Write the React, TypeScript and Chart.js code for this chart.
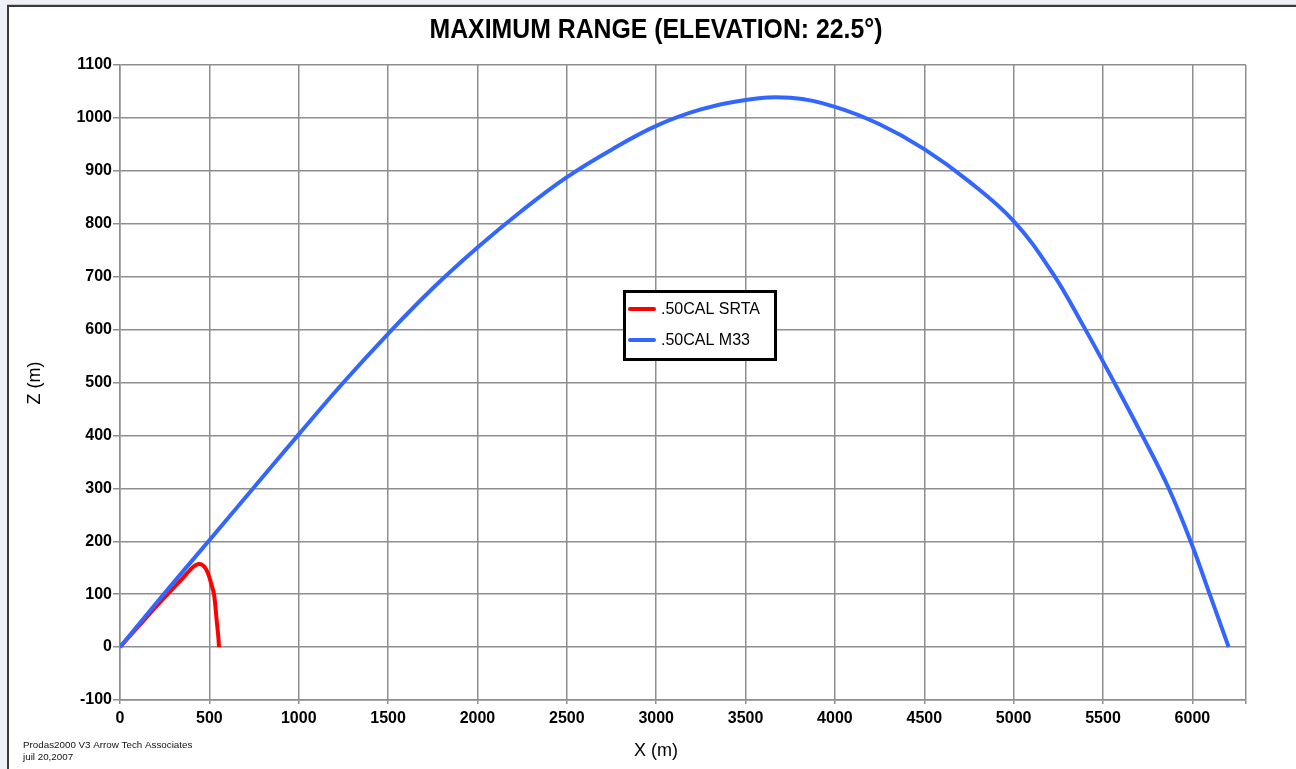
import React, { useEffect, useRef } from "react";
import { Chart, registerables } from "chart.js";

Chart.register(...registerables);

const chartTitle = "MAXIMUM RANGE (ELEVATION: 22.5°)";
const xAxisTitle = "X (m)";
const yAxisTitle = "Z (m)";
const footerLines = ["Prodas2000 V3 Arrow Tech Associates", "juil 20,2007"];

const srtaLabel = ".50CAL SRTA";
const srtaX = [0, 100, 200, 300, 350, 390, 415, 440, 462, 480, 497, 510, 526, 541, 550, 554];
const srtaZ = [0, 38, 76, 112, 130, 145, 153, 157, 155, 148, 135, 120, 100, 50, 20, 0];

const m33Label = ".50CAL M33";
const m33X = [0, 250, 500, 750, 1000, 1250, 1500, 1750, 2000, 2250, 2500, 2750, 3000, 3250, 3500, 3750, 4000, 4250, 4500, 4750, 5000, 5215, 5390, 5555, 5715, 5865, 5990, 6097, 6203];
const m33Z = [0, 102, 202, 302, 402, 500, 592, 678, 755, 825, 888, 940, 985, 1016, 1034, 1038, 1021, 988, 941, 880, 805, 708, 607, 505, 403, 302, 200, 100, 0];

const xMin = 0;
const xMax = 6300;
const xTickValues = [0, 500, 1000, 1500, 2000, 2500, 3000, 3500, 4000, 4500, 5000, 5500, 6000, 6300];
const xTickLabels = ["0", "500", "1000", "1500", "2000", "2500", "3000", "3500", "4000", "4500", "5000", "5500", "6000", ""];
const yMin = -100;
const yMax = 1100;
const yStep = 100;

const GRID = "#8e8e8e";
const FONT = '"Liberation Sans", Arial, sans-serif';

function toPoints(xs: number[], ys: number[]) {
  return xs.map((x, i) => ({ x, y: ys[i] }));
}

const overlayPlugin = {
  id: "overlay",
  afterDraw(chart: any) {
    const ctx = chart.ctx as CanvasRenderingContext2D;
    const area = chart.chartArea;
    ctx.save();
    // Title (condensed bold)
    ctx.fillStyle = "#000";
    ctx.font = 'bold 27px "Liberation Sans", Arial, sans-serif';
    ctx.textAlign = "center";
    ctx.textBaseline = "middle";
    const tw = ctx.measureText(chartTitle).width;
    const sx = 453 / tw;
    ctx.save();
    ctx.translate(656, 31);
    ctx.scale(sx, 1);
    ctx.fillText(chartTitle, 0, 0);
    ctx.restore();

    // Axis titles
    ctx.font = "18px " + FONT;
    ctx.fillText(xAxisTitle, (area.left + area.right) / 2 - 27, 751);
    ctx.save();
    ctx.translate(35, 383);
    ctx.rotate(-Math.PI / 2);
    ctx.fillText(yAxisTitle, 0, 0);
    ctx.restore();

    // Footer
    ctx.font = "9.8px " + FONT;
    ctx.textAlign = "left";
    ctx.fillStyle = "#111";
    ctx.fillText(footerLines[0], 23, 745);
    ctx.fillText(footerLines[1], 23, 757);

    // Legend
    const bx = 623, by = 290, bw = 154, bh = 71;
    ctx.fillStyle = "#fff";
    ctx.fillRect(bx, by, bw, bh);
    ctx.lineWidth = 3;
    ctx.strokeStyle = "#000";
    ctx.strokeRect(bx + 1.5, by + 1.5, bw - 3, bh - 3);
    const rows = [309, 340];
    chart.data.datasets.forEach((ds: any, i: number) => {
      const y = rows[i];
      ctx.strokeStyle = ds.borderColor;
      ctx.lineWidth = 4;
      ctx.lineCap = "round";
      ctx.beginPath();
      ctx.moveTo(630, y);
      ctx.lineTo(654, y);
      ctx.stroke();
      ctx.fillStyle = "#000";
      ctx.font = "16px " + FONT;
      ctx.textBaseline = "middle";
      ctx.fillText(ds.label, 661, y + 1);
    });
    ctx.restore();
  },
};

export default function App() {
  const ref = useRef<HTMLCanvasElement | null>(null);
  useEffect(() => {
    if (!ref.current) return;
    const chart = new Chart(ref.current, {
      type: "scatter",
      data: {
        datasets: [
          {
            label: srtaLabel,
            data: toPoints(srtaX, srtaZ),
            showLine: true,
            borderColor: "#ff0000",
            backgroundColor: "#ff0000",
            borderWidth: 4,
            pointRadius: 0,
            tension: 0.35,
            borderJoinStyle: "round",
            order: 1,
          },
          {
            label: m33Label,
            data: toPoints(m33X, m33Z),
            showLine: true,
            borderColor: "#3366ff",
            backgroundColor: "#3366ff",
            borderWidth: 4,
            pointRadius: 0,
            tension: 0.4,
            borderJoinStyle: "round",
            order: 0,
          },
        ],
      },
      options: {
        responsive: false,
        animation: false,
        layout: { padding: { left: 0, top: 65, right: 50, bottom: 0 } },
        plugins: {
          legend: { display: false },
          title: { display: false },
          tooltip: { enabled: false },
        },
        scales: {
          x: {
            type: "linear",
            min: xMin,
            max: xMax,
            afterBuildTicks: (s: any) => {
              s.ticks = xTickValues.map((v) => ({ value: v }));
            },
            afterFit: (s: any) => {
              s.height = 69;
            },
            ticks: {
              autoSkip: false,
              maxRotation: 0,
              minRotation: 0,
              color: "#000",
              font: { family: FONT, size: 16, weight: "bold" },
              padding: 5,
              callback: (v: any) => {
                const i = xTickValues.indexOf(Number(v));
                return i >= 0 ? xTickLabels[i] : "";
              },
            },
            grid: { color: GRID, lineWidth: 1.5, tickLength: 4, tickColor: GRID },
            border: { color: GRID, width: 1.5 },
          },
          y: {
            type: "linear",
            min: yMin,
            max: yMax,
            afterFit: (s: any) => {
              s.width = 120;
            },
            ticks: {
              stepSize: yStep,
              autoSkip: false,
              color: "#000",
              font: { family: FONT, size: 16, weight: "bold" },
              padding: 1,
              callback: (v: any) => String(v),
            },
            grid: { color: GRID, lineWidth: 1.5, tickLength: 7, tickColor: GRID },
            border: { color: GRID, width: 1.5 },
          },
        },
      },
      plugins: [overlayPlugin],
    });
    return () => chart.destroy();
  }, []);

  return (
    <div
      style={{
        position: "fixed",
        left: 0,
        top: 0,
        width: 1296,
        height: 769,
        overflow: "hidden",
        background: "#eef2f8",
      }}
    >
      <div
        style={{
          position: "absolute",
          left: 7,
          top: 5,
          width: 1400,
          height: 900,
          background: "#fff",
          borderTop: "2px solid #3a3a3a",
          borderLeft: "2px solid #3a3a3a",
          boxShadow: "0 -1px 0 #c8c8c8",
        }}
      />
      <canvas
        ref={ref}
        width={1296}
        height={769}
        style={{ position: "absolute", left: 0, top: 0, width: 1296, height: 769 }}
      />
    </div>
  );
}
